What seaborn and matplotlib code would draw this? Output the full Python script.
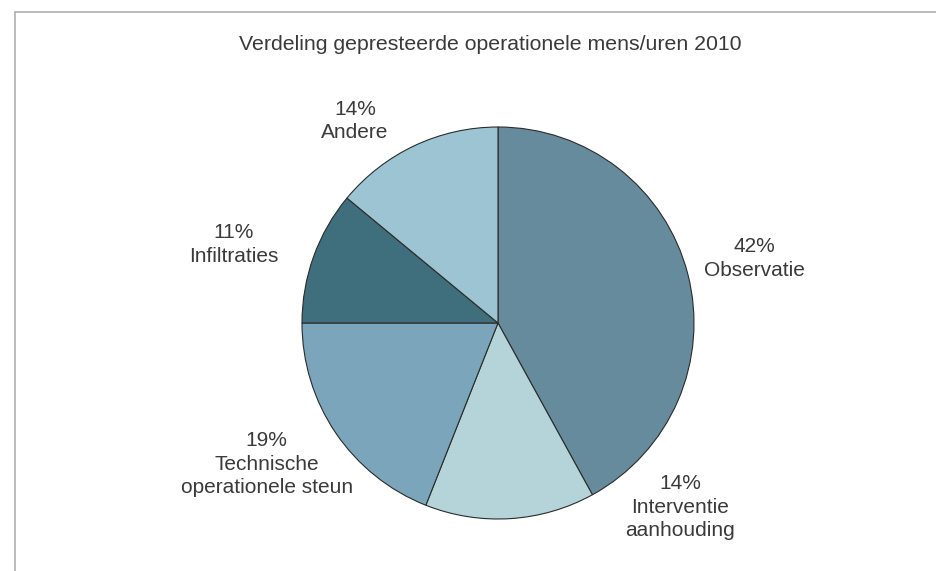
import matplotlib
matplotlib.use("Agg")
import matplotlib.pyplot as plt
from matplotlib.lines import Line2D
import seaborn as sns

# data
categories = ["Observatie", "Interventie\naanhouding", "Technische\noperationele steun",
              "Infiltraties", "Andere"]
shares = [42, 14, 19, 11, 14]
colors = ["#658b9c", "#b4d4da", "#7aa5bb", "#3f6e7c", "#9cc4d3"]
title = "Verdeling gepresteerde operationele mens/uren 2010"

# label anchor (x, y) in pie-radius units, hand placed like the original
label_pos = [(1.31, 0.33), (0.93, -0.94), (-1.18, -0.72), (-1.35, 0.40), (-0.73, 1.03)]

sns.set_theme(style="white")
plt.rcParams["font.family"] = ["Liberation Sans", "DejaVu Sans"]
text_color = "#3a3a3a"

W, H, dpi = 937, 571, 100
fig = plt.figure(figsize=(W / dpi, H / dpi), dpi=dpi)
ax = fig.add_axes([0, 0, 1, 1])

# pie centre at pixel (498, 323), radius 196 px
cx, cy, r = 498, 323, 196
ax.pie(shares, colors=colors, startangle=90, counterclock=False, radius=1,
       wedgeprops=dict(edgecolor="#2b2b2b", linewidth=0.8))
ax.set_xlim(-cx / r, (W - cx) / r)
ax.set_ylim(-(H - cy) / r, cy / r)
ax.set_aspect("auto")
ax.axis("off")

for cat, val, (lx, ly) in zip(categories, shares, label_pos):
    ax.text(lx, ly, f"{val}%\n{cat}", ha="center", va="center", fontsize=15,
            color=text_color, linespacing=1.3)

fig.text(490 / W, 1 - 44 / H, title, ha="center", va="center", fontsize=15.3,
         color=text_color)

# thin frame: top and left edge only
border = "#b0b0b0"
fig.add_artist(Line2D([15 / W, 1], [1 - 12 / H, 1 - 12 / H], color=border, lw=1.2,
                      transform=fig.transFigure))
fig.add_artist(Line2D([15 / W, 15 / W], [0, 1 - 12 / H], color=border, lw=1.2,
                      transform=fig.transFigure))

fig.savefig("out.png", dpi=dpi)
